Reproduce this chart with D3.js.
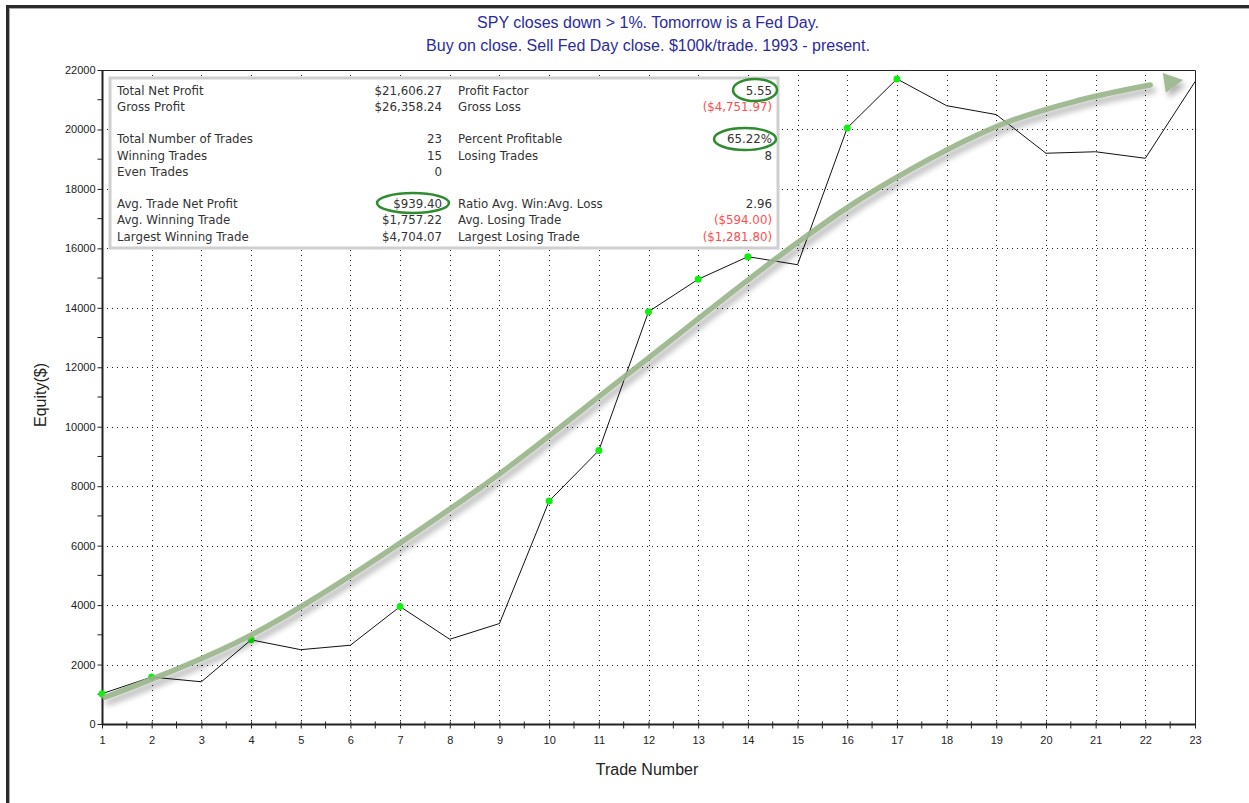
<!DOCTYPE html>
<html>
<head>
<meta charset="utf-8">
<script src="https://cdn.jsdelivr.net/npm/d3@7"></script>
<style>
  html, body { margin: 0; padding: 0; background: #fff; }
  svg { display: block; }
</style>
</head>
<body>
<svg id="chart" width="1249" height="803"></svg>
<script>
// ---- data ----
const trades = d3.range(1, 24);
const equity = [1020, 1580, 1420, 2830, 2500, 2650, 3950, 2850, 3380, 7500, 9200, 13870,
                14960, 15720, 15450, 20050, 21700, 20800, 20500, 19200, 19250, 19030, 21606];
const yTicks = [0, 2000, 4000, 6000, 8000, 10000, 12000, 14000, 16000, 18000, 20000, 22000];
const yMinorTicks = d3.range(1000, 22000, 2000);
const xTicks = d3.range(1, 24);
const titleLines = ["SPY closes down > 1%. Tomorrow is a Fed Day.",
                    "Buy on close. Sell Fed Day close. $100k/trade. 1993 - present."];
const xLabel = "Trade Number";
const yLabel = "Equity($)";
const statLabelsLeft = ["Total Net Profit", "Gross Profit", "", "Total Number of Trades", "Winning Trades", "Even Trades", "", "Avg. Trade Net Profit", "Avg. Winning Trade", "Largest Winning Trade"];
const statValuesLeft = ["$21,606.27", "$26,358.24", "", "23", "15", "0", "", "$939.40", "$1,757.22", "$4,704.07"];
const statLabelsRight = ["Profit Factor", "Gross Loss", "", "Percent Profitable", "Losing Trades", "", "", "Ratio Avg. Win:Avg. Loss", "Avg. Losing Trade", "Largest Losing Trade"];
const statValuesRight = ["5.55", "($4,751.97)", "", "65.22%", "8", "", "", "2.96", "($594.00)", "($1,281.80)"];
const highlighted = ["5.55", "65.22%", "$939.40"];
// trend arrow (annotation) in data coordinates: [trade, equity]
const arrowPts = [[1.06, 900], [4.0, 2990], [8.61, 7940], [11.43, 11570], [14.99, 16180],
                  [16.66, 18060], [19.08, 20150], [20.69, 20990], [22.1, 21495]];
const arrowTip = [22.76, 21664];

// ---- layout ----
const svg = d3.select("#chart");
const W = 1249, H = 803;
const plot = {left: 102, right: 1195, top: 70, bottom: 724};

const x = d3.scaleLinear().domain([1, 23]).range([plot.left, plot.right]);
const y = d3.scaleLinear().domain([0, 22000]).range([plot.bottom, plot.top]);

const defs = svg.append("defs");
const f = defs.append("filter").attr("id", "shadow").attr("x", "-10%").attr("y", "-10%").attr("width", "130%").attr("height", "130%");
f.append("feDropShadow").attr("dx", 3).attr("dy", 5).attr("stdDeviation", 3)
  .attr("flood-color", "#000").attr("flood-opacity", 0.35);

// outer frame
svg.append("rect").attr("x", 0).attr("y", 0).attr("width", W).attr("height", H).attr("fill", "#fff");
svg.append("rect").attr("x", 6).attr("y", 5).attr("width", W - 6).attr("height", 3).attr("fill", "#2b2b2b");
svg.append("rect").attr("x", 6).attr("y", 5).attr("width", 3).attr("height", H - 5).attr("fill", "#2b2b2b");
svg.append("rect").attr("x", 9).attr("y", 8).attr("width", W - 9).attr("height", 1).attr("fill", "#aaa");
svg.append("rect").attr("x", 9).attr("y", 8).attr("width", 1).attr("height", H - 8).attr("fill", "#aaa");

// title
svg.append("g").selectAll("text").data(titleLines).join("text")
  .attr("x", 648).attr("y", (d, i) => 28 + i * 23)
  .attr("text-anchor", "middle")
  .attr("font-family", "Liberation Sans, Arial, sans-serif")
  .attr("font-size", 16).attr("fill", "#2b2b9e")
  .text(d => d);

// grid
const grid = svg.append("g");
grid.selectAll("line.h").data(yTicks.filter(v => v > 0 && v < 22000)).join("line")
  .attr("x1", plot.left).attr("x2", plot.right)
  .attr("y1", d => Math.round(y(d)) + 0.5).attr("y2", d => Math.round(y(d)) + 0.5)
  .attr("stroke", "#222").attr("stroke-width", 1).attr("stroke-dasharray", "1,4");
grid.selectAll("line.v").data(xTicks.filter(v => v > 1 && v < 23)).join("line")
  .attr("x1", d => Math.round(x(d)) + 0.5).attr("x2", d => Math.round(x(d)) + 0.5)
  .attr("y1", plot.top).attr("y2", plot.bottom)
  .attr("stroke", "#222").attr("stroke-width", 1).attr("stroke-dasharray", "1,4");

// plot border (top and right)
svg.append("path")
  .attr("d", `M${plot.left},${plot.top + 0.5}H${plot.right + 0.5}V${plot.bottom}`)
  .attr("fill", "none").attr("stroke", "#222").attr("stroke-width", 1);

// axes
const font = "Liberation Sans, Arial, sans-serif";
const yAxis = svg.append("g").attr("transform", `translate(${plot.left + 0.5},0)`)
  .call(d3.axisLeft(y).tickValues(yTicks).tickSize(5).tickPadding(2).tickFormat(d3.format("d")));
yAxis.selectAll(".tick line").attr("x1", 0).attr("x2", -5);
yAxis.append("g").selectAll("line").data(yMinorTicks).join("line")
  .attr("x1", -5).attr("x2", 0).attr("y1", d => y(d)).attr("y2", d => y(d)).attr("stroke", "#222");

const xAxis = svg.append("g").attr("transform", `translate(0,${plot.bottom + 0.5})`)
  .call(d3.axisBottom(x).tickValues(xTicks).tickSize(4).tickPadding(8).tickFormat(d3.format("d")));
xAxis.selectAll(".tick line").attr("y1", -3).attr("y2", 4);
xAxis.append("g").selectAll("line").data(d3.range(1.5, 23, 1)).join("line")
  .attr("x1", d => x(d)).attr("x2", d => x(d)).attr("y1", -3).attr("y2", 4).attr("stroke", "#222");

[yAxis, xAxis].forEach(a => {
  a.select(".domain").attr("stroke", "#222").attr("stroke-width", 2);
  a.selectAll(".tick text").attr("font-family", font).attr("font-size", 11).attr("fill", "#222");
  a.selectAll(".tick line").attr("stroke", "#222");
});
xAxis.select(".domain").attr("d", `M${plot.left},0H${plot.right + 1}`);
yAxis.select(".domain").attr("d", `M0,${plot.top}V${plot.bottom + 1}`);

// axis titles
svg.append("text").attr("x", 647).attr("y", 775).attr("text-anchor", "middle")
  .attr("font-family", font).attr("font-size", 16).attr("fill", "#222").text(xLabel);
svg.append("text").attr("transform", "translate(46,395) rotate(-90)").attr("text-anchor", "middle")
  .attr("font-family", font).attr("font-size", 16).attr("fill", "#222").text(yLabel);

// stats box
const box = {x: 110, y: 78, w: 668, h: 170};
svg.append("rect").attr("x", box.x).attr("y", box.y).attr("width", box.w).attr("height", box.h)
  .attr("fill", "#fff").attr("stroke", "#cfcfcf").attr("stroke-width", 3);
const rowY = [91, 107, 123, 139, 156, 172, 188, 204, 220, 237].map(v => v + 4);
const statFont = "Tahoma, 'DejaVu Sans', Verdana, sans-serif";
const sg = svg.append("g").attr("font-family", statFont).attr("font-size", 11.8);
function col(labels, values, lx, vx) {
  sg.append("g").selectAll("text").data(labels).join("text")
    .attr("x", lx).attr("y", (d, i) => rowY[i]).attr("fill", "#333").text(d => d);
  sg.append("g").selectAll("text").data(values).join("text")
    .attr("x", vx).attr("y", (d, i) => rowY[i]).attr("text-anchor", "end")
    .attr("fill", d => d.startsWith("(") ? "#ff4d4d" : "#333").text(d => d);
}
col(statLabelsLeft, statValuesLeft, 117, 442);
col(statLabelsRight, statValuesRight, 458, 772);
// highlight ellipses
const ellipses = [
  {v: "5.55", cx: 755, cy: 90, rx: 22, ry: 11},
  {v: "65.22%", cx: 745, cy: 139, rx: 31, ry: 11},
  {v: "$939.40", cx: 413, cy: 203, rx: 36, ry: 10}
];
svg.append("g").selectAll("ellipse").data(ellipses.filter(e => highlighted.includes(e.v))).join("ellipse")
  .attr("cx", d => d.cx).attr("cy", d => d.cy).attr("rx", d => d.rx).attr("ry", d => d.ry)
  .attr("fill", "none").attr("stroke", "#2e8b2e").attr("stroke-width", 2.5);

// equity line
const data = trades.map((t, i) => ({t, v: equity[i]}));
svg.append("path").datum(data)
  .attr("d", d3.line().x(d => x(d.t)).y(d => y(d.v)))
  .attr("fill", "none").attr("stroke", "#111").attr("stroke-width", 1);

// new-high markers
let runMax = -Infinity;
const highs = data.filter(d => { if (d.v > runMax) { runMax = d.v; return true; } return false; });
svg.append("g").selectAll("circle").data(highs).join("circle")
  .attr("cx", d => x(d.t)).attr("cy", d => y(d.v)).attr("r", 3.5).attr("fill", "#11ee11");

// trend arrow
const ag = svg.append("g").attr("filter", "url(#shadow)").attr("opacity", 0.9);
ag.append("path").datum(arrowPts)
  .attr("d", d3.line().x(d => x(d[0])).y(d => y(d[1])).curve(d3.curveCatmullRom))
  .attr("fill", "none").attr("stroke", "#98b48a").attr("stroke-width", 5.5).attr("stroke-linecap", "round");
{
  const last = arrowPts[arrowPts.length - 1];
  const bx = x(last[0]), by = y(last[1]);
  const tx = x(arrowTip[0]), ty = y(arrowTip[1]);
  const ang = Math.atan2(ty - by, tx - bx);
  const base = [tx - 19 * Math.cos(ang), ty - 19 * Math.sin(ang)];
  const nx = -Math.sin(ang), ny = Math.cos(ang);
  ag.append("path")
    .attr("d", `M${tx},${ty}L${base[0] + 10 * nx},${base[1] + 10 * ny}L${base[0] - 10 * nx},${base[1] - 10 * ny}Z`)
    .attr("fill", "#98b48a");
}
</script>
</body>
</html>
